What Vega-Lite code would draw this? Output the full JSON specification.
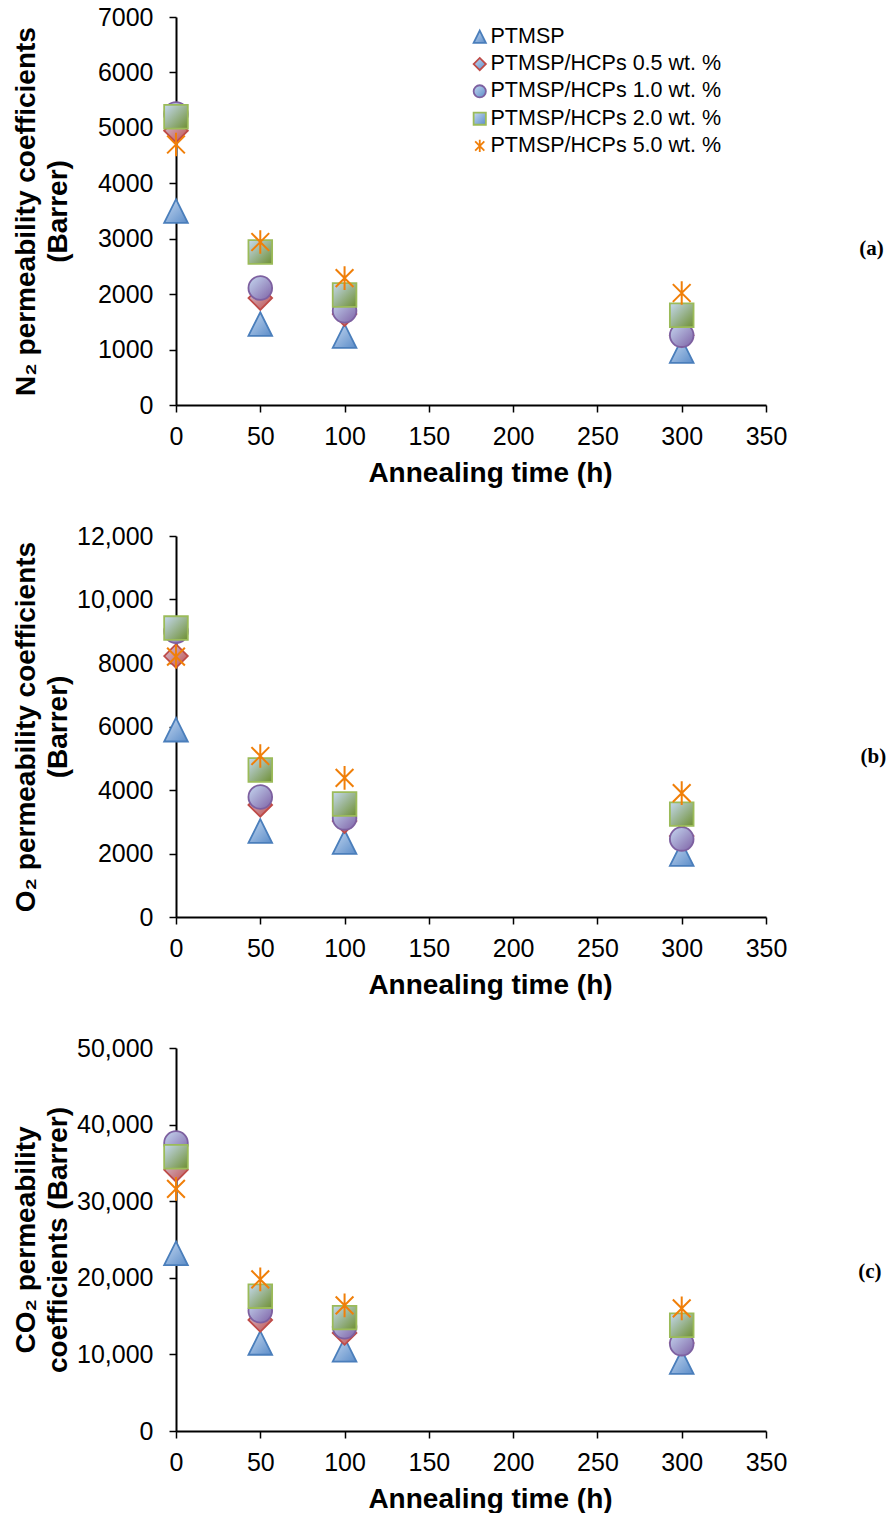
{
  "$schema": "https://vega.github.io/schema/vega-lite/v6.json",
  "padding": {"left": 11, "top": 5, "right": 0, "bottom": 0},
  "spacing": 37,
  "background": "white",
  "config": {
    "view": {"stroke": null},
    "font": "Liberation Sans",
    "axis": {
      "grid": false,
      "domainColor": "black",
      "domainWidth": 2,
      "tickColor": "black",
      "tickWidth": 1.5,
      "tickSize": 7,
      "labelFont": "Liberation Sans",
      "labelFontSize": 25,
      "labelColor": "black",
      "labelFlush": false,
      "labelOverlap": false,
      "titleFont": "Liberation Sans",
      "titleFontSize": 28,
      "titleFontWeight": "bold",
      "titleColor": "black",
      "zindex": 0
    },
    "legend": {
      "orient": "none",
      "title": null,
      "labelFont": "Liberation Sans",
      "labelFontSize": 21.5,
      "labelColor": "black",
      "labelLimit": 400,
      "rowPadding": 4.3,
      "symbolSize": 150,
      "symbolStrokeWidth": 1.5,
      "labelOffset": 0
    },
    "point": {"filled": true, "size": 560, "strokeWidth": 1.8, "opacity": 1}
  },
  "datasets": {
    "a": [
      {"series": "PTMSP", "time": 0, "value": 3500},
      {"series": "PTMSP", "time": 50, "value": 1460},
      {"series": "PTMSP", "time": 100, "value": 1245},
      {"series": "PTMSP", "time": 300, "value": 975},
      {"series": "PTMSP/HCPs 0.5 wt. %", "time": 0, "value": 4950},
      {"series": "PTMSP/HCPs 0.5 wt. %", "time": 50, "value": 1930},
      {"series": "PTMSP/HCPs 0.5 wt. %", "time": 100, "value": 1640},
      {"series": "PTMSP/HCPs 0.5 wt. %", "time": 300, "value": 1260},
      {"series": "PTMSP/HCPs 1.0 wt. %", "time": 0, "value": 5250},
      {"series": "PTMSP/HCPs 1.0 wt. %", "time": 50, "value": 2110},
      {"series": "PTMSP/HCPs 1.0 wt. %", "time": 100, "value": 1700},
      {"series": "PTMSP/HCPs 1.0 wt. %", "time": 300, "value": 1260},
      {"series": "PTMSP/HCPs 2.0 wt. %", "time": 0, "value": 5200},
      {"series": "PTMSP/HCPs 2.0 wt. %", "time": 50, "value": 2760},
      {"series": "PTMSP/HCPs 2.0 wt. %", "time": 100, "value": 1985},
      {"series": "PTMSP/HCPs 2.0 wt. %", "time": 300, "value": 1620},
      {"series": "PTMSP/HCPs 5.0 wt. %", "time": 0, "value": 4700},
      {"series": "PTMSP/HCPs 5.0 wt. %", "time": 50, "value": 2940},
      {"series": "PTMSP/HCPs 5.0 wt. %", "time": 100, "value": 2290},
      {"series": "PTMSP/HCPs 5.0 wt. %", "time": 300, "value": 2020}
    ],
    "b": [
      {"series": "PTMSP", "time": 0, "value": 5900},
      {"series": "PTMSP", "time": 50, "value": 2710},
      {"series": "PTMSP", "time": 100, "value": 2360},
      {"series": "PTMSP", "time": 300, "value": 1980},
      {"series": "PTMSP/HCPs 0.5 wt. %", "time": 0, "value": 8220},
      {"series": "PTMSP/HCPs 0.5 wt. %", "time": 50, "value": 3530},
      {"series": "PTMSP/HCPs 0.5 wt. %", "time": 100, "value": 3020},
      {"series": "PTMSP/HCPs 0.5 wt. %", "time": 300, "value": 2550},
      {"series": "PTMSP/HCPs 1.0 wt. %", "time": 0, "value": 9000},
      {"series": "PTMSP/HCPs 1.0 wt. %", "time": 50, "value": 3780},
      {"series": "PTMSP/HCPs 1.0 wt. %", "time": 100, "value": 3120},
      {"series": "PTMSP/HCPs 1.0 wt. %", "time": 300, "value": 2460},
      {"series": "PTMSP/HCPs 2.0 wt. %", "time": 0, "value": 9100},
      {"series": "PTMSP/HCPs 2.0 wt. %", "time": 50, "value": 4630},
      {"series": "PTMSP/HCPs 2.0 wt. %", "time": 100, "value": 3560},
      {"series": "PTMSP/HCPs 2.0 wt. %", "time": 300, "value": 3240},
      {"series": "PTMSP/HCPs 5.0 wt. %", "time": 0, "value": 8200},
      {"series": "PTMSP/HCPs 5.0 wt. %", "time": 50, "value": 5070},
      {"series": "PTMSP/HCPs 5.0 wt. %", "time": 100, "value": 4380},
      {"series": "PTMSP/HCPs 5.0 wt. %", "time": 300, "value": 3900}
    ],
    "c": [
      {"series": "PTMSP", "time": 0, "value": 23200},
      {"series": "PTMSP", "time": 50, "value": 11500},
      {"series": "PTMSP", "time": 100, "value": 10600},
      {"series": "PTMSP", "time": 300, "value": 9000},
      {"series": "PTMSP/HCPs 0.5 wt. %", "time": 0, "value": 34100},
      {"series": "PTMSP/HCPs 0.5 wt. %", "time": 50, "value": 14500},
      {"series": "PTMSP/HCPs 0.5 wt. %", "time": 100, "value": 12800},
      {"series": "PTMSP/HCPs 0.5 wt. %", "time": 300, "value": 11500},
      {"series": "PTMSP/HCPs 1.0 wt. %", "time": 0, "value": 37600},
      {"series": "PTMSP/HCPs 1.0 wt. %", "time": 50, "value": 15700},
      {"series": "PTMSP/HCPs 1.0 wt. %", "time": 100, "value": 13600},
      {"series": "PTMSP/HCPs 1.0 wt. %", "time": 300, "value": 11400},
      {"series": "PTMSP/HCPs 2.0 wt. %", "time": 0, "value": 35800},
      {"series": "PTMSP/HCPs 2.0 wt. %", "time": 50, "value": 17600},
      {"series": "PTMSP/HCPs 2.0 wt. %", "time": 100, "value": 14800},
      {"series": "PTMSP/HCPs 2.0 wt. %", "time": 300, "value": 13800},
      {"series": "PTMSP/HCPs 5.0 wt. %", "time": 0, "value": 31600},
      {"series": "PTMSP/HCPs 5.0 wt. %", "time": 50, "value": 19800},
      {"series": "PTMSP/HCPs 5.0 wt. %", "time": 100, "value": 16400},
      {"series": "PTMSP/HCPs 5.0 wt. %", "time": 300, "value": 16000}
    ]
  },
  "vconcat": [
    {
      "width": 590,
      "height": 388,
      "data": {"name": "a"},
      "title": {"text": "(a)", "orient": "right", "angle": 0, "align": "left", "baseline": "middle", "offset": 48, "dy": 38, "font": "Liberation Serif", "fontSize": 21, "fontWeight": "bold", "color": "black"},
      "encoding": {
        "x": {"field": "time", "type": "quantitative", "scale": {"domain": [0, 350], "nice": false},
          "axis": {"values": [0, 50, 100, 150, 200, 250, 300, 350], "title": "Annealing time (h)", "labelPadding": 12, "titleX": 314, "titleY": 54, "titleBaseline": "top", "encode": {"ticks": {"update": {"y": {"value": -7}}}}}},
        "y": {"field": "value", "type": "quantitative", "scale": {"domain": [0, 7000], "nice": false},
          "axis": {"values": [0, 1000, 2000, 3000, 4000, 5000, 6000, 7000], "format": "d", "title": ["N₂ permeability coefficients", "(Barrer)"], "titleLineHeight": 32, "titleX": -136, "labelPadding": 16, "encode": {"ticks": {"update": {"x": {"value": 7}}}}}},
        "shape": {"field": "series", "type": "nominal",
          "scale": {"domain": ["PTMSP", "PTMSP/HCPs 0.5 wt. %", "PTMSP/HCPs 1.0 wt. %", "PTMSP/HCPs 2.0 wt. %", "PTMSP/HCPs 5.0 wt. %"],
            "range": ["M0,-1L1,1L-1,1Z", "diamond", "circle", "square", "M0,-1L0,1M-0.75,-0.75L0.75,0.75M-0.75,0.75L0.75,-0.75"]},
          "legend": {"legendX": 293, "legendY": 9,
            "encode": {"symbols": {"update": {"fill": [
              {"test": "datum.value === 'PTMSP'", "value": {"gradient": "linear", "x1": 0, "y1": 0, "x2": 1, "y2": 1, "stops": [{"offset": 0, "color": "#C6D9F1"}, {"offset": 1, "color": "#5B8CC8"}]}},
              {"test": "datum.value === 'PTMSP/HCPs 0.5 wt. %'", "value": {"gradient": "linear", "x1": 0, "y1": 0, "x2": 1, "y2": 1, "stops": [{"offset": 0, "color": "#D3C6DA"}, {"offset": 1, "color": "#C0504D"}]}},
              {"test": "datum.value === 'PTMSP/HCPs 1.0 wt. %'", "value": {"gradient": "linear", "x1": 0, "y1": 0, "x2": 1, "y2": 1, "stops": [{"offset": 0, "color": "#C6D9F1"}, {"offset": 1, "color": "#7E62A6"}]}},
              {"test": "datum.value === 'PTMSP/HCPs 2.0 wt. %'", "value": {"gradient": "linear", "x1": 0, "y1": 0, "x2": 1, "y2": 1, "stops": [{"offset": 0, "color": "#C6D9F1"}, {"offset": 1, "color": "#6E8F32"}]}},
              {"value": "transparent"}
            ]}}}}},
        "stroke": {"field": "series", "type": "nominal",
          "scale": {"domain": ["PTMSP", "PTMSP/HCPs 0.5 wt. %", "PTMSP/HCPs 1.0 wt. %", "PTMSP/HCPs 2.0 wt. %", "PTMSP/HCPs 5.0 wt. %"],
            "range": ["#4A7EBB", "#BE4B48", "#7D60A0", "#9BBB59", "#F07F09"]}}
      },
      "layer": [
        {"transform": [{"filter": "datum.series === 'PTMSP'"}], "mark": {"type": "point", "fill": {"gradient": "linear", "x1": 0, "y1": 0, "x2": 1, "y2": 1, "stops": [{"offset": 0, "color": "#C6D9F1"}, {"offset": 1, "color": "#5B8CC8"}]}}},
        {"transform": [{"filter": "datum.series === 'PTMSP/HCPs 0.5 wt. %'"}], "mark": {"type": "point", "fill": {"gradient": "linear", "x1": 0, "y1": 0, "x2": 1, "y2": 1, "stops": [{"offset": 0, "color": "#D3C6DA"}, {"offset": 1, "color": "#C0504D"}]}}},
        {"transform": [{"filter": "datum.series === 'PTMSP/HCPs 1.0 wt. %'"}], "mark": {"type": "point", "fill": {"gradient": "linear", "x1": 0, "y1": 0, "x2": 1, "y2": 1, "stops": [{"offset": 0, "color": "#C6D9F1"}, {"offset": 1, "color": "#7E62A6"}]}}},
        {"transform": [{"filter": "datum.series === 'PTMSP/HCPs 2.0 wt. %'"}], "mark": {"type": "point", "fill": {"gradient": "linear", "x1": 0, "y1": 0, "x2": 1, "y2": 1, "stops": [{"offset": 0, "color": "#C6D9F1"}, {"offset": 1, "color": "#6E8F32"}]}}},
        {"transform": [{"filter": "datum.series === 'PTMSP/HCPs 5.0 wt. %'"}], "mark": {"type": "point", "fill": "transparent", "strokeWidth": 2}}
      ]
    },
    {
      "width": 590,
      "height": 381,
      "data": {"name": "b"},
      "title": {"text": "(b)", "orient": "right", "angle": 0, "align": "left", "baseline": "middle", "offset": 48, "dy": 30, "font": "Liberation Serif", "fontSize": 21, "fontWeight": "bold", "color": "black"},
      "encoding": {
        "x": {"field": "time", "type": "quantitative", "scale": {"domain": [0, 350], "nice": false},
          "axis": {"values": [0, 50, 100, 150, 200, 250, 300, 350], "title": "Annealing time (h)", "labelPadding": 12, "titleX": 314, "titleY": 54, "titleBaseline": "top", "encode": {"ticks": {"update": {"y": {"value": -7}}}}}},
        "y": {"field": "value", "type": "quantitative", "scale": {"domain": [0, 12000], "nice": false},
          "axis": {"values": [0, 2000, 4000, 6000, 8000, 10000, 12000], "labelExpr": "datum.value >= 10000 ? format(datum.value, ',') : format(datum.value, 'd')", "title": ["O₂ permeability coefficients", "(Barrer)"], "titleLineHeight": 32, "titleX": -136, "labelPadding": 16, "encode": {"ticks": {"update": {"x": {"value": 7}}}}}},
        "shape": {"field": "series", "type": "nominal",
          "scale": {"domain": ["PTMSP", "PTMSP/HCPs 0.5 wt. %", "PTMSP/HCPs 1.0 wt. %", "PTMSP/HCPs 2.0 wt. %", "PTMSP/HCPs 5.0 wt. %"],
            "range": ["M0,-1L1,1L-1,1Z", "diamond", "circle", "square", "M0,-1L0,1M-0.75,-0.75L0.75,0.75M-0.75,0.75L0.75,-0.75"]},
          "legend": {"legendX": 287, "legendY": 8,
            "encode": {"symbols": {"update": {"fill": [
              {"test": "datum.value === 'PTMSP'", "value": {"gradient": "linear", "x1": 0, "y1": 0, "x2": 1, "y2": 1, "stops": [{"offset": 0, "color": "#C6D9F1"}, {"offset": 1, "color": "#5B8CC8"}]}},
              {"test": "datum.value === 'PTMSP/HCPs 0.5 wt. %'", "value": {"gradient": "linear", "x1": 0, "y1": 0, "x2": 1, "y2": 1, "stops": [{"offset": 0, "color": "#D3C6DA"}, {"offset": 1, "color": "#C0504D"}]}},
              {"test": "datum.value === 'PTMSP/HCPs 1.0 wt. %'", "value": {"gradient": "linear", "x1": 0, "y1": 0, "x2": 1, "y2": 1, "stops": [{"offset": 0, "color": "#C6D9F1"}, {"offset": 1, "color": "#7E62A6"}]}},
              {"test": "datum.value === 'PTMSP/HCPs 2.0 wt. %'", "value": {"gradient": "linear", "x1": 0, "y1": 0, "x2": 1, "y2": 1, "stops": [{"offset": 0, "color": "#C6D9F1"}, {"offset": 1, "color": "#6E8F32"}]}},
              {"value": "transparent"}
            ]}}}}},
        "stroke": {"field": "series", "type": "nominal",
          "scale": {"domain": ["PTMSP", "PTMSP/HCPs 0.5 wt. %", "PTMSP/HCPs 1.0 wt. %", "PTMSP/HCPs 2.0 wt. %", "PTMSP/HCPs 5.0 wt. %"],
            "range": ["#4A7EBB", "#BE4B48", "#7D60A0", "#9BBB59", "#F07F09"]}}
      },
      "layer": [
        {"transform": [{"filter": "datum.series === 'PTMSP'"}], "mark": {"type": "point", "fill": {"gradient": "linear", "x1": 0, "y1": 0, "x2": 1, "y2": 1, "stops": [{"offset": 0, "color": "#C6D9F1"}, {"offset": 1, "color": "#5B8CC8"}]}}},
        {"transform": [{"filter": "datum.series === 'PTMSP/HCPs 0.5 wt. %'"}], "mark": {"type": "point", "fill": {"gradient": "linear", "x1": 0, "y1": 0, "x2": 1, "y2": 1, "stops": [{"offset": 0, "color": "#D3C6DA"}, {"offset": 1, "color": "#C0504D"}]}}},
        {"transform": [{"filter": "datum.series === 'PTMSP/HCPs 1.0 wt. %'"}], "mark": {"type": "point", "fill": {"gradient": "linear", "x1": 0, "y1": 0, "x2": 1, "y2": 1, "stops": [{"offset": 0, "color": "#C6D9F1"}, {"offset": 1, "color": "#7E62A6"}]}}},
        {"transform": [{"filter": "datum.series === 'PTMSP/HCPs 2.0 wt. %'"}], "mark": {"type": "point", "fill": {"gradient": "linear", "x1": 0, "y1": 0, "x2": 1, "y2": 1, "stops": [{"offset": 0, "color": "#C6D9F1"}, {"offset": 1, "color": "#6E8F32"}]}}},
        {"transform": [{"filter": "datum.series === 'PTMSP/HCPs 5.0 wt. %'"}], "mark": {"type": "point", "fill": "transparent", "strokeWidth": 2}}
      ]
    },
    {
      "width": 590,
      "height": 383,
      "data": {"name": "c"},
      "title": {"text": "(c)", "orient": "right", "angle": 0, "align": "left", "baseline": "middle", "offset": 48, "dy": 32, "font": "Liberation Serif", "fontSize": 21, "fontWeight": "bold", "color": "black"},
      "encoding": {
        "x": {"field": "time", "type": "quantitative", "scale": {"domain": [0, 350], "nice": false},
          "axis": {"values": [0, 50, 100, 150, 200, 250, 300, 350], "title": "Annealing time (h)", "labelPadding": 12, "titleX": 314, "titleY": 54, "titleBaseline": "top", "encode": {"ticks": {"update": {"y": {"value": -7}}}}}},
        "y": {"field": "value", "type": "quantitative", "scale": {"domain": [0, 50000], "nice": false},
          "axis": {"values": [0, 10000, 20000, 30000, 40000, 50000], "labelExpr": "datum.value >= 10000 ? format(datum.value, ',') : format(datum.value, 'd')", "title": ["CO₂ permeability", "coefficients (Barrer)"], "titleLineHeight": 32, "titleX": -136, "labelPadding": 16, "encode": {"ticks": {"update": {"x": {"value": 7}}}}}},
        "shape": {"field": "series", "type": "nominal",
          "scale": {"domain": ["PTMSP", "PTMSP/HCPs 0.5 wt. %", "PTMSP/HCPs 1.0 wt. %", "PTMSP/HCPs 2.0 wt. %", "PTMSP/HCPs 5.0 wt. %"],
            "range": ["M0,-1L1,1L-1,1Z", "diamond", "circle", "square", "M0,-1L0,1M-0.75,-0.75L0.75,0.75M-0.75,0.75L0.75,-0.75"]},
          "legend": {"legendX": 287, "legendY": 10,
            "encode": {"symbols": {"update": {"fill": [
              {"test": "datum.value === 'PTMSP'", "value": {"gradient": "linear", "x1": 0, "y1": 0, "x2": 1, "y2": 1, "stops": [{"offset": 0, "color": "#C6D9F1"}, {"offset": 1, "color": "#5B8CC8"}]}},
              {"test": "datum.value === 'PTMSP/HCPs 0.5 wt. %'", "value": {"gradient": "linear", "x1": 0, "y1": 0, "x2": 1, "y2": 1, "stops": [{"offset": 0, "color": "#D3C6DA"}, {"offset": 1, "color": "#C0504D"}]}},
              {"test": "datum.value === 'PTMSP/HCPs 1.0 wt. %'", "value": {"gradient": "linear", "x1": 0, "y1": 0, "x2": 1, "y2": 1, "stops": [{"offset": 0, "color": "#C6D9F1"}, {"offset": 1, "color": "#7E62A6"}]}},
              {"test": "datum.value === 'PTMSP/HCPs 2.0 wt. %'", "value": {"gradient": "linear", "x1": 0, "y1": 0, "x2": 1, "y2": 1, "stops": [{"offset": 0, "color": "#C6D9F1"}, {"offset": 1, "color": "#6E8F32"}]}},
              {"value": "transparent"}
            ]}}}}},
        "stroke": {"field": "series", "type": "nominal",
          "scale": {"domain": ["PTMSP", "PTMSP/HCPs 0.5 wt. %", "PTMSP/HCPs 1.0 wt. %", "PTMSP/HCPs 2.0 wt. %", "PTMSP/HCPs 5.0 wt. %"],
            "range": ["#4A7EBB", "#BE4B48", "#7D60A0", "#9BBB59", "#F07F09"]}}
      },
      "layer": [
        {"transform": [{"filter": "datum.series === 'PTMSP'"}], "mark": {"type": "point", "fill": {"gradient": "linear", "x1": 0, "y1": 0, "x2": 1, "y2": 1, "stops": [{"offset": 0, "color": "#C6D9F1"}, {"offset": 1, "color": "#5B8CC8"}]}}},
        {"transform": [{"filter": "datum.series === 'PTMSP/HCPs 0.5 wt. %'"}], "mark": {"type": "point", "fill": {"gradient": "linear", "x1": 0, "y1": 0, "x2": 1, "y2": 1, "stops": [{"offset": 0, "color": "#D3C6DA"}, {"offset": 1, "color": "#C0504D"}]}}},
        {"transform": [{"filter": "datum.series === 'PTMSP/HCPs 1.0 wt. %'"}], "mark": {"type": "point", "fill": {"gradient": "linear", "x1": 0, "y1": 0, "x2": 1, "y2": 1, "stops": [{"offset": 0, "color": "#C6D9F1"}, {"offset": 1, "color": "#7E62A6"}]}}},
        {"transform": [{"filter": "datum.series === 'PTMSP/HCPs 2.0 wt. %'"}], "mark": {"type": "point", "fill": {"gradient": "linear", "x1": 0, "y1": 0, "x2": 1, "y2": 1, "stops": [{"offset": 0, "color": "#C6D9F1"}, {"offset": 1, "color": "#6E8F32"}]}}},
        {"transform": [{"filter": "datum.series === 'PTMSP/HCPs 5.0 wt. %'"}], "mark": {"type": "point", "fill": "transparent", "strokeWidth": 2}}
      ]
    }
  ]
}
